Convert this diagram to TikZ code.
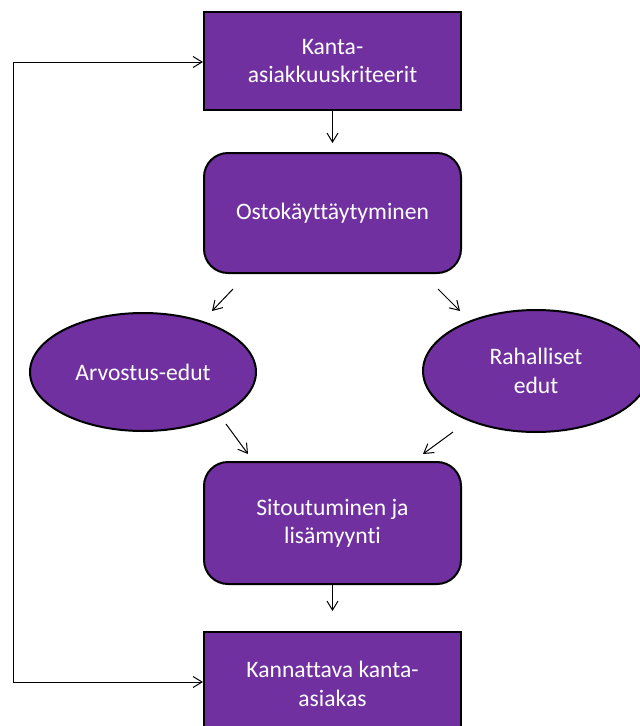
\documentclass[tikz,border=0pt]{standalone}
\usepackage{fontspec}
\setmainfont{Carlito}[Ligatures={NoCommon}]
\usetikzlibrary{arrows.meta,shapes.geometric}
\definecolor{pfill}{RGB}{112,48,160}
\begin{document}
\begin{tikzpicture}[x=1pt,y=-1pt,
  box/.style={draw=black,line width=2pt,fill=pfill,text=white,align=center,
    minimum width=257pt,font=\fontsize{23.6}{28.4}\selectfont,inner sep=0pt},
  rbox/.style={box,rounded corners=24pt},
  ell/.style={draw=black,line width=2pt,fill=pfill,text=white,align=center,
    ellipse,inner sep=0pt,minimum width=226pt,font=\fontsize{23.6}{28.4}\selectfont},
  arr/.style={-{Straight Barb[length=9pt,width=11pt]},line width=1pt,black},
  darr/.style={{Straight Barb[length=9pt,width=11pt]}-{Straight Barb[length=9pt,width=11pt]},line width=1pt,black}]
\useasboundingbox (0,0) rectangle (640,726);
\clip (0,0) rectangle (640,726);
\node[box,minimum height=98pt] (kanta) at (332.5,61) {Kanta-\\asiakkuuskriteerit};
\node[rbox,minimum height=120pt] (osto) at (332.5,213) {Ostokäyttäytyminen};
\node[ell,minimum height=118pt] (arvo) at (143,372) {Arvostus-edut};
\node[ell,minimum height=122pt] (raha) at (536,371) {Rahalliset\\edut};
\node[rbox,minimum height=122pt] (sito) at (332.5,523) {Sitoutuminen ja\\lisämyynti};
\node[box,minimum height=104pt] (kann) at (332.5,684) {Kannattava kanta-\\asiakas};
\coordinate (c1) at (233,289);
\coordinate (c2) at (212,311);
\coordinate (c3) at (438,289);
\coordinate (c4) at (460,311);
\coordinate (c5) at (226,424);
\coordinate (c6) at (248,454);
\coordinate (c7) at (453,432);
\coordinate (c8) at (423,454);
\coordinate (lb) at (13,682);
\coordinate (lt) at (13,62);
\draw[arr,shorten >=9pt] (kanta.south) -- (osto.north);
\draw[arr] (c1) -- (c2);
\draw[arr] (c3) -- (c4);
\draw[arr] (c5) -- (c6);
\draw[arr] (c7) -- (c8);
\draw[arr,shorten >=20pt] (sito.south) -- (kann.north);
\draw[darr] (kann.west |- lb) -- (lb) -- (lt) -- (kanta.west |- lt);
\end{tikzpicture}
\end{document}
